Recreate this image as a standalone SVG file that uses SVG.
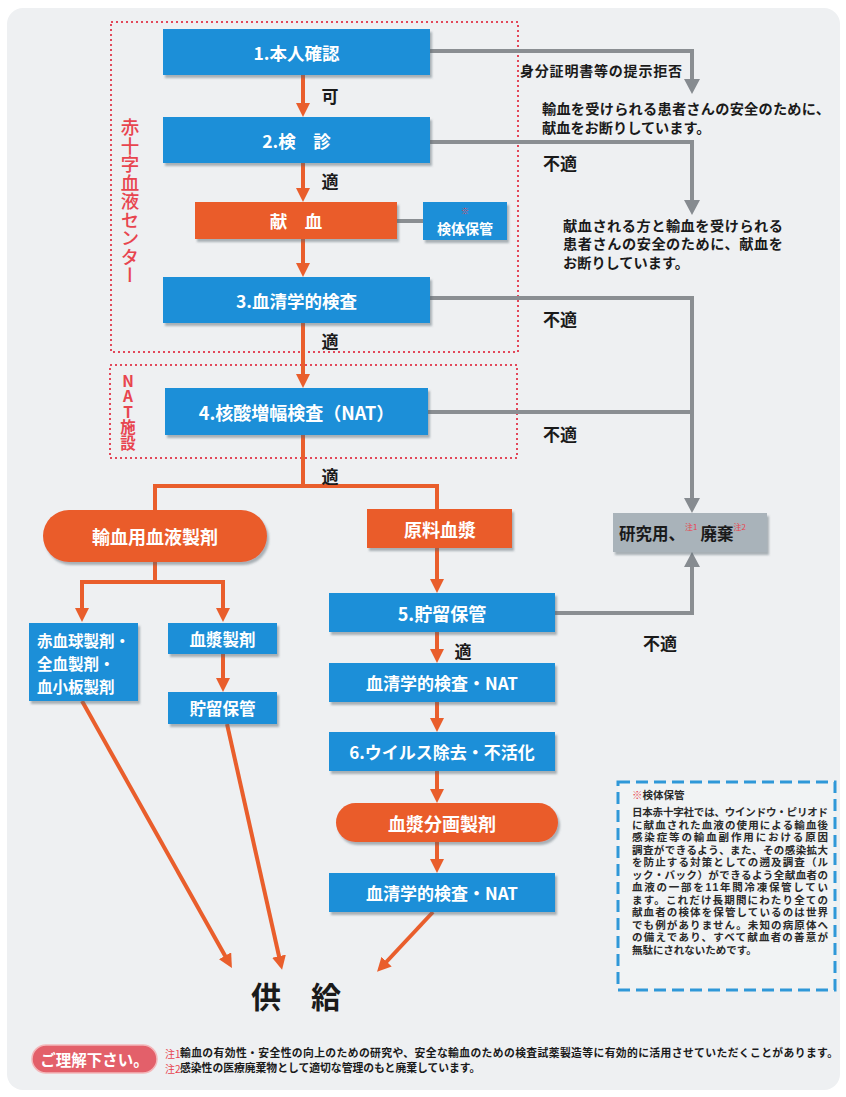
<svg xmlns="http://www.w3.org/2000/svg" width="846" height="1097" viewBox="0 0 846 1097">
<defs>
<filter id="sh" x="-10%" y="-10%" width="130%" height="140%"><feDropShadow dx="2" dy="3" stdDeviation="1.2" flood-color="#55606a" flood-opacity="0.45"/></filter>
<marker id="ao" markerUnits="userSpaceOnUse" markerWidth="14" markerHeight="14" refX="6" refY="7" orient="auto"><path d="M0,0 L14,7 L0,14 z" fill="#e95e2c"/></marker>
<marker id="ag" markerUnits="userSpaceOnUse" markerWidth="16" markerHeight="16" refX="6" refY="8" orient="auto"><path d="M0,0 L15,8 L0,16 z" fill="#868b90"/></marker>
<style>
text{font-family:"Noto Sans CJK JP","Noto Sans",sans-serif;dominant-baseline:central}
.blue{fill:#1b8fd8;filter:url(#sh)}
.org{fill:#ea5b2b;filter:url(#sh)}
.lb{fill:#fff;font-weight:700;text-anchor:middle}
.k{fill:#1a1a1a;font-weight:700}
.red{fill:#e8454f}
.ol{fill:none;stroke:#e95e2c;stroke-width:4}
.gl{fill:none;stroke:#8a8e92;stroke-width:4}
.dot{fill:none;stroke:#e2485a;stroke-width:2;stroke-dasharray:2 3}
.nt{font-family:"Liberation Sans","Noto Sans CJK JP",sans-serif;font-size:10.5px;fill:#2a2a2a;font-weight:700}
.ft{font-family:"Liberation Sans","Noto Sans CJK JP",sans-serif;font-weight:700;fill:#1a1a1a}
</style>
</defs>
<rect x="0" y="0" width="846" height="1097" fill="#ffffff"/>
<rect x="7" y="8" width="833" height="1082" rx="16" fill="#eef0f2"/>

<g id="zones">
<rect class="dot" x="111" y="22" width="407" height="330"/>
<text x="130" y="118" font-size="18.5" class="red" font-weight="500" style="writing-mode:vertical-rl;dominant-baseline:auto">赤十字血液センター</text>
<rect class="dot" x="110" y="365" width="407" height="93"/>
<text x="128" y="373" font-size="15.5" class="red" font-weight="700" style="writing-mode:vertical-rl;text-orientation:upright;dominant-baseline:auto">NAT施設</text>
</g>

<g id="connectors">
<path class="gl" d="M430,51 H692 V85" marker-end="url(#ag)"/>
<path class="gl" d="M430,142 H692 V206" marker-end="url(#ag)"/>
<path class="gl" d="M430,298 H692 V504" marker-end="url(#ag)"/>
<path class="gl" d="M428,412 H692"/>
<path class="gl" d="M555,613 H692 V561" marker-end="url(#ag)"/>
<path class="gl" d="M397,221 H423"/>
<path class="ol" d="M303,75 V109" marker-end="url(#ao)"/>
<path class="ol" d="M303,163 V194" marker-end="url(#ao)"/>
<path class="ol" d="M303,239 V269" marker-end="url(#ao)"/>
<path class="ol" d="M303,323 V380" marker-end="url(#ao)"/>
<path class="ol" d="M303,435 V486 M153,486 H439 M155,486 V512 M437,486 V510"/>
<path class="ol" d="M155,560 V582 M80,582 H225"/>
<path class="ol" d="M82,582 V614" marker-end="url(#ao)"/>
<path class="ol" d="M223,582 V614" marker-end="url(#ao)"/>
<path class="ol" d="M223,654 V684" marker-end="url(#ao)"/>
<path class="ol" d="M437,548 V585" marker-end="url(#ao)"/>
<path class="ol" d="M437,632 V655" marker-end="url(#ao)"/>
<path class="ol" d="M437,702 V724" marker-end="url(#ao)"/>
<path class="ol" d="M437,771 V795" marker-end="url(#ao)"/>
<path class="ol" d="M437,842 V865" marker-end="url(#ao)"/>
<path class="ol" d="M82,701 L228,961" marker-end="url(#ao)"/>
<path class="ol" d="M227,724 L280.3,962" marker-end="url(#ao)"/>
<path class="ol" d="M433,912 L382.5,966" marker-end="url(#ao)"/>
<text class="k" x="330" y="95" font-size="17" text-anchor="middle">可</text>
<text class="k" x="330" y="180" font-size="17" text-anchor="middle">適</text>
<text class="k" x="330" y="340" font-size="17" text-anchor="middle">適</text>
<text class="k" x="330" y="475" font-size="17" text-anchor="middle">適</text>
<text class="k" x="463" y="650" font-size="17" text-anchor="middle">適</text>
<text class="k" x="543" y="162" font-size="17">不適</text>
<text class="k" x="543" y="318" font-size="17">不適</text>
<text class="k" x="543" y="433" font-size="17">不適</text>
<text class="k" x="643" y="642" font-size="17">不適</text>
<text class="k" x="520" y="70" font-size="14" textLength="162" lengthAdjust="spacing">身分証明書等の提示拒否</text>
<text class="k" x="542" y="108" font-size="14.2" textLength="288" lengthAdjust="spacing">輸血を受けられる患者さんの安全のために、</text>
<text class="k" x="542" y="127" font-size="14.2">献血をお断りしています。</text>
<text class="k" x="563" y="225" font-size="14.2" textLength="220" lengthAdjust="spacing">献血される方と輸血を受けられる</text>
<text class="k" x="563" y="243" font-size="14.2" textLength="220" lengthAdjust="spacing">患者さんの安全のために、献血を</text>
<text class="k" x="563" y="262" font-size="14.2">お断りしています。</text>
</g>

<g id="n1"><rect class="blue" x="163" y="29" width="267" height="46"/><text class="lb" x="296.5" y="52" font-size="17.5">1.本人確認</text></g>
<g id="n2"><rect class="blue" x="163" y="117" width="267" height="46"/><text class="lb" x="296.5" y="140" font-size="17.5">2.検　診</text></g>
<g id="n_kenketsu"><rect class="org" x="195" y="202" width="202" height="37"/><text class="lb" x="296" y="220.5" font-size="17.5">献　血</text></g>
<g id="n_kentai"><rect class="blue" x="423" y="202" width="84" height="38"/><text x="465" y="210" font-size="8" class="red" text-anchor="middle">※</text><text class="lb" x="465" y="228" font-size="14">検体保管</text></g>
<g id="n3"><rect class="blue" x="163" y="277" width="267" height="46"/><text class="lb" x="296.5" y="300" font-size="17.5">3.血清学的検査</text></g>
<g id="n4"><rect class="blue" x="165" y="388" width="263" height="47"/><text class="lb" x="296.5" y="411.5" font-size="18">4.核酸増幅検査（NAT）</text></g>
<g id="n_yuketsu"><rect class="org" x="43" y="510" width="224" height="52" rx="26"/><text class="lb" x="155" y="536" font-size="18">輸血用血液製剤</text></g>
<g id="n_genryo"><rect class="org" x="367" y="509" width="145" height="39"/><text class="lb" x="440" y="529" font-size="18">原料血漿</text></g>
<g id="n_sekkekkyu"><rect class="blue" x="29" y="623" width="109" height="78"/>
<text x="37" y="640" font-size="15.5" fill="#fff" font-weight="700">赤血球製剤・</text>
<text x="37" y="663" font-size="15.5" fill="#fff" font-weight="700">全血製剤・</text>
<text x="37" y="686" font-size="15.5" fill="#fff" font-weight="700">血小板製剤</text></g>
<g id="n_kessho"><rect class="blue" x="168" y="623" width="109" height="31"/><text class="lb" x="222.5" y="638.5" font-size="16.5">血漿製剤</text></g>
<g id="n_chozou_l"><rect class="blue" x="168" y="692" width="109" height="32"/><text class="lb" x="222.5" y="708" font-size="16.5">貯留保管</text></g>
<g id="n5"><rect class="blue" x="329" y="593" width="226" height="39"/><text class="lb" x="442" y="612.5" font-size="18">5.貯留保管</text></g>
<g id="n_nat1"><rect class="blue" x="329" y="663" width="226" height="39"/><text class="lb" x="442" y="682.5" font-size="17">血清学的検査・NAT</text></g>
<g id="n6"><rect class="blue" x="329" y="732" width="226" height="39"/><text class="lb" x="442" y="751.5" font-size="17">6.ウイルス除去・不活化</text></g>
<g id="n_bunkaku"><rect class="org" x="336" y="803" width="222" height="39" rx="19.5"/><text class="lb" x="442" y="822.5" font-size="18">血漿分画製剤</text></g>
<g id="n_nat2"><rect class="blue" x="329" y="873" width="226" height="39"/><text class="lb" x="442" y="892.5" font-size="17">血清学的検査・NAT</text></g>
<g id="n_haiki"><rect x="613" y="513" width="154" height="39" fill="#a9b3ba" filter="url(#sh)"/>
<text x="619" y="533" font-size="16.5" class="k">研究用、<tspan class="red" font-size="8" dy="-7" font-weight="400">注1</tspan><tspan dy="7" dx="3">廃棄</tspan><tspan class="red" font-size="8" dy="-7" font-weight="400">注2</tspan></text></g>
<g id="n_kyokyu"><text class="k" x="296" y="995" font-size="30" text-anchor="middle">供　給</text></g>

<g id="note">
<rect x="618" y="782" width="217" height="208" fill="#f1f3f4" stroke="#2f98d8" stroke-width="3" stroke-dasharray="12 6"/>
<text class="nt" x="632" y="795"><tspan class="red">※</tspan>検体保管</text>
<text class="nt" x="632" y="812" textLength="196" lengthAdjust="spacing">日本赤十字社では、ウインドウ・ピリオド</text>
<text class="nt" x="632" y="824.5" textLength="196" lengthAdjust="spacing">に献血された血液の使用による輸血後</text>
<text class="nt" x="632" y="837" textLength="196" lengthAdjust="spacing">感染症等の輸血副作用における原因</text>
<text class="nt" x="632" y="849.5" textLength="196" lengthAdjust="spacing">調査ができるよう、また、その感染拡大</text>
<text class="nt" x="632" y="862" textLength="196" lengthAdjust="spacing">を防止する対策としての遡及調査（ル</text>
<text class="nt" x="632" y="874.5" textLength="196" lengthAdjust="spacing">ック・バック）ができるよう全献血者の</text>
<text class="nt" x="632" y="887" textLength="196" lengthAdjust="spacing">血液の一部を11年間冷凍保管してい</text>
<text class="nt" x="632" y="899.5" textLength="196" lengthAdjust="spacing">ます。これだけ長期間にわたり全ての</text>
<text class="nt" x="632" y="912" textLength="196" lengthAdjust="spacing">献血者の検体を保管しているのは世界</text>
<text class="nt" x="632" y="924.5" textLength="196" lengthAdjust="spacing">でも例がありません。未知の病原体へ</text>
<text class="nt" x="632" y="937" textLength="196" lengthAdjust="spacing">の備えであり、すべて献血者の善意が</text>
<text class="nt" x="632" y="949.5">無駄にされないためです。</text>
</g>

<g id="footer">
<rect x="32" y="1045" width="125" height="28" rx="14" fill="#e3606a" stroke="#f3b7ba" stroke-width="1.5"/>
<text class="lb" x="94.5" y="1059" font-size="15.5">ご理解下さい。</text>
<text x="165" y="1053" font-size="10" class="red">注1</text>
<text x="180" y="1053" font-size="10.8" class="ft" textLength="658" lengthAdjust="spacing">輸血の有効性・安全性の向上のための研究や、安全な輸血のための検査試薬製造等に有効的に活用させていただくことがあります。</text>
<text x="165" y="1068" font-size="10" class="red">注2</text>
<text x="180" y="1068" font-size="10.8" class="ft">感染性の医療廃棄物として適切な管理のもと廃棄しています。</text>
</g>
</svg>
